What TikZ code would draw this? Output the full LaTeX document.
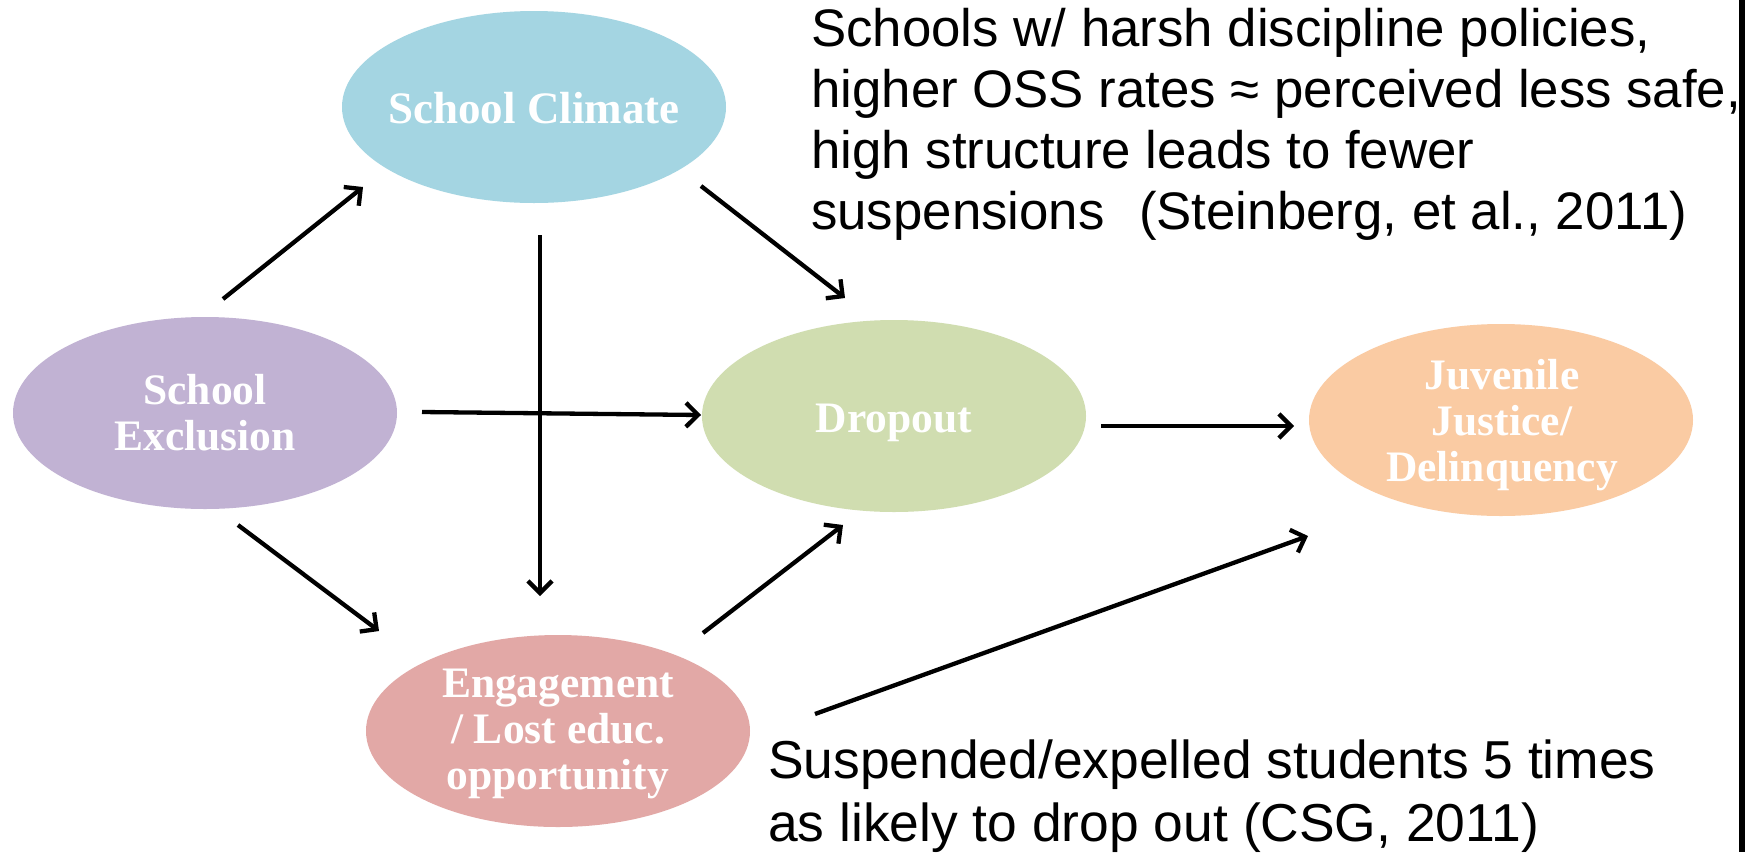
\documentclass[tikz,border=0pt]{standalone}
\usepackage{fontspec}
\setmainfont{Liberation Sans}
\newfontfamily\lserif{Liberation Serif}
\usetikzlibrary{shapes.geometric,arrows.meta}
\definecolor{cClim}{RGB}{164,213,226}
\definecolor{cExcl}{RGB}{193,178,211}
\definecolor{cDrop}{RGB}{208,221,176}
\definecolor{cJuv}{RGB}{250,203,163}
\definecolor{cEng}{RGB}{226,168,166}
\tikzset{
  blob/.style={ellipse, draw=none, minimum width=384pt, minimum height=192pt, inner sep=0pt},
  lbl/.style={text=white, align=center, inner sep=0pt, font=\lserif\bfseries\fontsize{43.5}{46}\selectfont},
  conn/.style={line width=4.3pt, -{Straight Barb[length=12pt,width=24pt,line width=4.3pt]}},
  note/.style={anchor=base west, inner sep=0pt, font=\fontsize{52.8}{60}\selectfont},
  noteb/.style={anchor=base west, inner sep=0pt, font=\fontsize{53.4}{60}\selectfont}
}
\begin{document}
\begin{tikzpicture}[x=1pt,y=-1pt]
\useasboundingbox[fill=white] (0,0) rectangle (1750,852);
\node[blob, fill=cClim] (clim) at (534,107) {};
\node[lbl, font=\lserif\bfseries\fontsize{45}{46}\selectfont] (climt) at (534,108) {School Climate};
\node[blob, fill=cExcl] (excl) at (205,413) {};
\node[lbl] (exclt) at (205,413) {School\\Exclusion};
\node[blob, fill=cDrop] (drop) at (894,416) {};
\node[lbl] (dropt) at (894,423) {Dropout};
\node[blob, fill=cJuv] (juv) at (1501,420) {};
\node[lbl] (juvt) at (1502,425) {Juvenile\\Justice/\\Delinquency};
\node[blob, fill=cEng] (eng) at (558,731) {};
\node[lbl] (engt) at (558,734) {Engagement\\/ Lost educ.\\opportunity};
\node[note] (t1) at (811,46) {Schools w/ harsh discipline policies,};
\node[note] (t2) at (811,107) {higher OSS rates ≈ perceived less safe,};
\node[note] (t3) at (811,168) {high structure leads to fewer};
\node[note] (t4) at (811,229) {\makebox[328pt][l]{suspensions}(Steinberg, et al., 2011)};
\node[noteb] (b1) at (768,778) {Suspended/expelled students 5 times};
\node[noteb] (b2) at (768,841) {as likely to drop out (CSG, 2011)};
\coordinate (a1s) at (223,299); \coordinate (a1e) at (363,187);
\coordinate (a2s) at (701,186); \coordinate (a2e) at (845,298);
\coordinate (a3s) at (540,235); \coordinate (a3e) at (540,596);
\coordinate (a4s) at (422,412); \coordinate (a4e) at (701,415);
\coordinate (a5s) at (238,525); \coordinate (a5e) at (379,631);
\coordinate (a6s) at (703,633); \coordinate (a6e) at (843,525);
\coordinate (a7s) at (1101,426); \coordinate (a7e) at (1294,426);
\coordinate (a8s) at (815,714); \coordinate (a8e) at (1308,536);
\draw[conn] (a1s) -- (a1e);
\draw[conn] (a2s) -- (a2e);
\draw[conn] (a4s) -- (a4e);
\draw[conn, line width=3.5pt] (a3s) -- (a3e);
\draw[conn] (a5s) -- (a5e);
\draw[conn] (a6s) -- (a6e);
\draw[conn] (a7s) -- (a7e);
\draw[conn] (a8s) -- (a8e);
\fill[white] (1745,0) rectangle (1750,852);
\coordinate (rt) at (1742,0); \coordinate (rb) at (1742,852);
\draw[line width=6pt] (rt) -- (rb);
\end{tikzpicture}
\end{document}
